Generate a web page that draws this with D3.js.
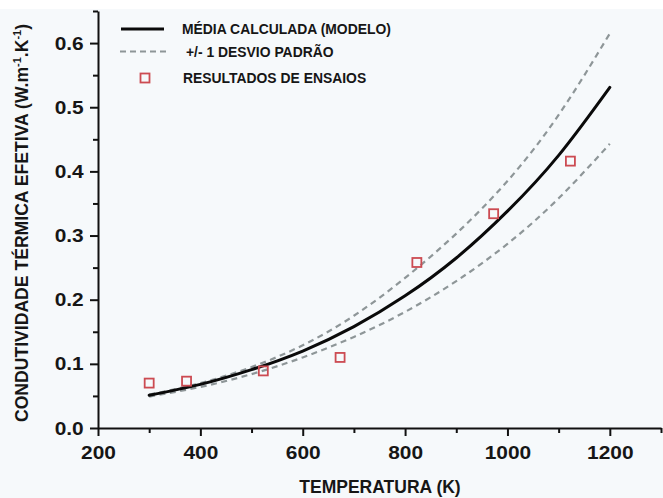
<!DOCTYPE html>
<html>
<head>
<meta charset="utf-8">
<script src="https://d3js.org/d3.v7.min.js"></script>
<style>
  body { margin: 0; background: #ffffff; }
  text { font-family: "Liberation Sans", Arial, sans-serif; font-weight: bold; fill: #161616; }
</style>
</head>
<body>
<script>
// values
const temps  = [300, 400, 500, 600, 700, 800, 900, 1000, 1100, 1200];
const media  = [0.051, 0.068, 0.091, 0.120, 0.158, 0.206, 0.265, 0.338, 0.425, 0.531];
const upper  = [0.052, 0.070, 0.095, 0.129, 0.175, 0.234, 0.303, 0.385, 0.488, 0.615];
const lower  = [0.049, 0.064, 0.084, 0.110, 0.142, 0.181, 0.229, 0.287, 0.358, 0.443];

const ensaioT = [300, 373, 523, 673, 823, 973, 1123];
const ensaioK = [0.070, 0.073, 0.089, 0.110, 0.258, 0.334, 0.416];

const xTicks = [200, 400, 600, 800, 1000, 1200];
const yTicks = [0.0, 0.1, 0.2, 0.3, 0.4, 0.5, 0.6];

const legendLabels = ["MÉDIA CALCULADA (MODELO)", "+/- 1 DESVIO PADRÃO", "RESULTADOS DE ENSAIOS"];

let width = 663, height = 498;

let svg = d3.select("body").append("svg")
    .attr("width", width)
    .attr("height", height);

// faint bluish paper tone
svg.append("rect")
    .attr("x", 0).attr("y", 9)
    .attr("width", width).attr("height", height - 9)
    .attr("fill", "#f6f9fb");

let x = d3.scaleLinear().domain([200, 1300]).range([98, 661]);
let y = d3.scaleLinear().domain([0, 0.65]).range([428, 11]);

// minor ticks
svg.append("g")
    .attr("transform", "translate(0,428)")
    .call(d3.axisBottom(x).tickValues(d3.range(300, 1301, 200)).tickSize(5).tickFormat(""))
    .call(g => g.select(".domain").remove());
svg.append("g")
    .attr("transform", "translate(98,0)")
    .call(d3.axisLeft(y).tickValues([0.05, 0.15, 0.25, 0.35, 0.45, 0.55, 0.65]).tickSize(5).tickFormat(""))
    .call(g => g.select(".domain").remove());

// major axes
let xAxis = svg.append("g")
    .attr("transform", "translate(0,428)")
    .call(d3.axisBottom(x).tickValues(xTicks).tickSize(8).tickSizeOuter(0).tickPadding(10).tickFormat(d3.format("d")));
let yAxis = svg.append("g")
    .attr("transform", "translate(98,0)")
    .call(d3.axisLeft(y).tickValues(yTicks).tickSize(8).tickSizeOuter(0).tickPadding(5).tickFormat(d3.format(".1f")));

svg.selectAll(".tick line, .domain")
    .attr("stroke", "#111")
    .attr("stroke-width", 2);

xAxis.selectAll(".tick text")
    .attr("font-size", "19px")
    .attr("fill", "#161616")
    .attr("transform", "scale(1.1,1)");
yAxis.selectAll(".tick text")
    .attr("font-size", "19px")
    .attr("fill", "#161616")
    .attr("transform", "scale(1.1,1)");

// curves
let line = d3.line()
    .x((d, i) => x(temps[i]))
    .y(d => y(d))
    .curve(d3.curveNatural);

[upper, lower].forEach(s => {
  svg.append("path")
      .attr("d", line(s))
      .attr("fill", "none")
      .attr("stroke", "#8e9698")
      .attr("stroke-width", 2.2)
      .attr("stroke-dasharray", "6,4.5");
});

svg.append("path")
    .attr("d", line(media))
    .attr("fill", "none")
    .attr("stroke", "#0a0a0a")
    .attr("stroke-width", 3)
    .attr("stroke-linecap", "round");

// test results
svg.selectAll("rect.ensaio")
  .data(ensaioT)
  .enter()
  .append("rect")
    .attr("class", "ensaio")
    .attr("x", d => x(d) - 4.5)
    .attr("y", (d, i) => y(ensaioK[i]) - 4.5)
    .attr("width", 9)
    .attr("height", 9)
    .attr("fill", "none")
    .attr("stroke", "#cc4b52")
    .attr("stroke-width", 1.8);

// legend
let lg = svg.append("g");
lg.append("line")
    .attr("x1", 121).attr("x2", 164).attr("y1", 29).attr("y2", 29)
    .attr("stroke", "#0a0a0a").attr("stroke-width", 3);
lg.append("line")
    .attr("x1", 120).attr("x2", 166).attr("y1", 51.5).attr("y2", 51.5)
    .attr("stroke", "#8e9698").attr("stroke-width", 2.2).attr("stroke-dasharray", "6,4");
lg.append("rect")
    .attr("x", 140.5).attr("y", 73.5).attr("width", 9).attr("height", 9)
    .attr("fill", "none").attr("stroke", "#cc4b52").attr("stroke-width", 1.8);

let legendX = [182, 186, 183];
let legendY = [34, 56.5, 83];
lg.selectAll("text")
  .data(legendLabels)
  .enter()
  .append("text")
    .attr("x", (d, i) => legendX[i])
    .attr("y", (d, i) => legendY[i])
    .attr("font-size", "13.9px")
    .text(d => d);

// axis titles
svg.append("text")
    .attr("x", 380)
    .attr("y", 493)
    .attr("text-anchor", "middle")
    .attr("font-size", "17.5px")
    .text("TEMPERATURA (K)");

let yt = svg.append("text")
    .attr("transform", "translate(28,223) rotate(-90)")
    .attr("text-anchor", "middle")
    .attr("font-size", "17.6px");
yt.append("tspan").text("CONDUTIVIDADE TÉRMICA EFETIVA (W.m");
yt.append("tspan").attr("dy", -7).attr("font-size", "11px").text("-1");
yt.append("tspan").attr("dy", 7).text(".K");
yt.append("tspan").attr("dy", -7).attr("font-size", "11px").text("-1");
yt.append("tspan").attr("dy", 7).text(")");
</script>
</body>
</html>
